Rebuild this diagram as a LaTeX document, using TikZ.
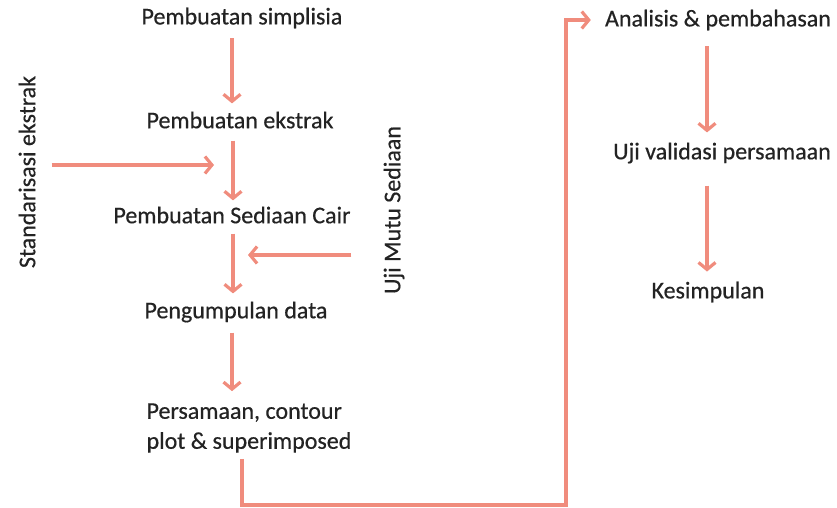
\documentclass[tikz,border=0pt]{standalone}
\usepackage{fontspec}
\setmainfont{Carlito}
\usetikzlibrary{arrows.meta, positioning, calc}
\definecolor{salmon}{RGB}{240,140,125}
\definecolor{ink}{RGB}{35,35,35}
\tikzset{
    stage/.style={font=\fontsize{24}{30}\selectfont\addfontfeatures{FakeBold=0.5},
        text=ink, inner sep=2pt},
    sidelabel/.style={stage, rotate=90},
    flow/.style={draw=salmon, line width=3.4pt,
        -{Straight Barb[length=7pt, width=17pt, line width=3.2pt]}},
}

\begin{document}
\begin{tikzpicture}[x=1pt, y=-1pt]
    \useasboundingbox (0,0) rectangle (837,508);

    % left column
    \node[stage] (simp) at (242,18) {Pembuatan simplisia};
    \node[stage] (ekst) at (240,120) {Pembuatan ekstrak};
    \node[stage] (sed) at (232,215) {Pembuatan Sediaan Cair};
    \node[stage] (data) at (236,312) {Pengumpulan data};
    \node[stage, align=left] (pers) at (249,428) {Persamaan, contour\\plot \& superimposed};

    % side inputs
    \node[sidelabel] (std) at (27,172) {Standarisasi ekstrak};
    \node[sidelabel] (mutu) at (394,210) {Uji Mutu Sediaan};
    \coordinate (m1) at (222,165);
    \coordinate (m2) at (240,255);

    % right column
    \node[stage] (anal) at (718,20) {Analisis \& pembahasan};
    \node[stage] (valid) at (722,153) {Uji validasi persamaan};
    \node[stage] (kes) at (708,292) {Kesimpulan};
    \coordinate (c1) at (566,505);

    \draw[flow, shorten <=8pt, shorten >=6pt] (simp.south -| 232,0) -- (ekst.north -| 232,0);
    \draw[flow, shorten <=10pt, shorten >=4pt] (ekst.south -| 233,0) -- (sed.north -| 233,0);
    \draw[flow, shorten <=8pt, shorten >=6pt] (sed.south -| 233,0) -- (data.north -| 233,0);
    \draw[flow, shorten <=8pt, shorten >=10pt] (data.south -| 232,0) -- (pers.north -| 232,0);

    \draw[flow, shorten <=14pt, shorten >=8pt] (std.south |- m1) -- (m1);
    \draw[flow, shorten <=30pt, shorten >=8pt] (mutu.north |- m2) -- (m2);

    \draw[flow, shorten <=4pt, shorten >=12pt] (pers.south -| 242,0) |- (c1) |- (anal.west);

    \draw[flow, shorten <=14pt, shorten >=8pt] (anal.south -| 707,0) -- (valid.north -| 707,0);
    \draw[flow, shorten <=20pt, shorten >=8pt] (valid.south -| 707,0) -- (kes.north -| 707,0);
\end{tikzpicture}
\end{document}
